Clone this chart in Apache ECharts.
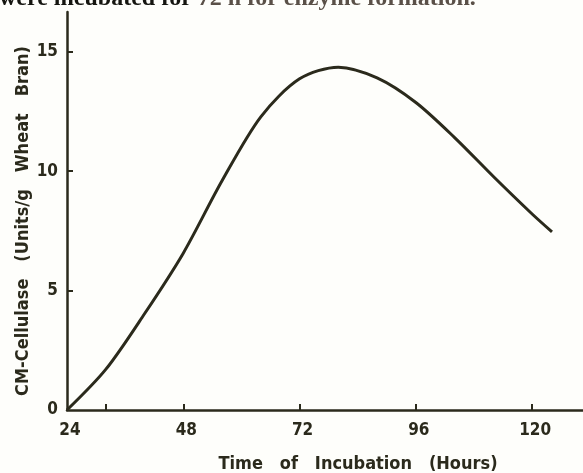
<!DOCTYPE html>
<html>
<head>
<meta charset="utf-8">
<script src="https://cdn.jsdelivr.net/npm/echarts@6/dist/echarts.min.js"></script>
<style>
html,body{margin:0;padding:0;background:#fefefb;}
#c{width:583px;height:473px;}
</style>
</head>
<body>
<div id="c"></div>
<script>
// Data
const hours = [24, 32, 40, 48, 56, 64, 72, 80, 88, 96, 104, 112, 120, 124.1];
const activity = [0, 1.7, 4.03, 6.57, 9.6, 12.28, 13.87, 14.36, 13.91, 12.88, 11.41, 9.78, 8.21, 7.46];
const xTickLabels = [24, 48, 72, 96, 120];
const xTickMarks = [32, 48, 72, 96, 120];
const yTickLabels = [0, 5, 10, 15];
const yTickMarks = [5, 10, 15];
const xTitle = 'Time   of   Incubation   (Hours)';
const yTitle = 'CM-Cellulase   (Units/g   Wheat   Bran)';
const topTextA = 'were incubated for ';
const topTextB = '72 h for enzyme formation.';

const ink = '#2b2a1c';
const chart = echarts.init(document.getElementById('c'), null, {renderer: 'canvas'});
chart.setOption({
  backgroundColor: '#fefefb',
  animation: false,
  graphic: [{
    type: 'text', left: -1, top: -13,
    style: {
      text: '{a|' + topTextA + '}{b|' + topTextB + '}',
      rich: {
        a: {font: 'bold 24px "Liberation Serif", serif', fill: '#151510'},
        b: {font: 'bold 24px "Liberation Serif", serif', fill: '#5a5048'}
      }
    }
  }],
  grid: {left: 67, top: 12, right: 0, bottom: 63, containLabel: false, outerBoundsMode: 'none'},
  xAxis: {
    type: 'value', min: 24, max: 130.5,
    splitLine: {show: false},
    axisLine: {lineStyle: {color: ink, width: 2.5}},
    axisTick: {inside: true, length: 6, lineStyle: {color: ink, width: 2}, customValues: xTickMarks},
    axisLabel: {customValues: xTickLabels, margin: 12, color: ink, fontSize: 17, fontWeight: 'bold', fontFamily: 'DejaVu Sans Condensed', padding: [0, 0, 0, 6]},
    name: xTitle, nameLocation: 'middle', nameGap: 45, nameMoveOverlap: false,
    nameTextStyle: {color: ink, fontSize: 18, fontWeight: 'bold', fontFamily: 'DejaVu Sans Condensed', padding: [0, 0, 0, 66]}
  },
  yAxis: {
    type: 'value', min: 0, max: 16.67,
    splitLine: {show: false},
    axisLine: {lineStyle: {color: ink, width: 2.5}},
    axisTick: {inside: true, length: 6, lineStyle: {color: ink, width: 2}, customValues: yTickMarks},
    axisLabel: {customValues: yTickLabels, margin: 9, color: ink, fontSize: 17, fontWeight: 'bold', fontFamily: 'DejaVu Sans Condensed'},
    name: yTitle, nameLocation: 'middle', nameGap: 35, nameRotate: 90, nameMoveOverlap: false,
    nameTextStyle: {color: ink, fontSize: 18, fontWeight: 'bold', fontFamily: 'DejaVu Sans Condensed', padding: [0, 20, 0, 0]}
  },
  series: [{
    type: 'line',
    data: hours.map((h, i) => [h, activity[i]]),
    smooth: 0.3,
    showSymbol: false,
    lineStyle: {color: ink, width: 3}
  }]
});
</script>
</body>
</html>
